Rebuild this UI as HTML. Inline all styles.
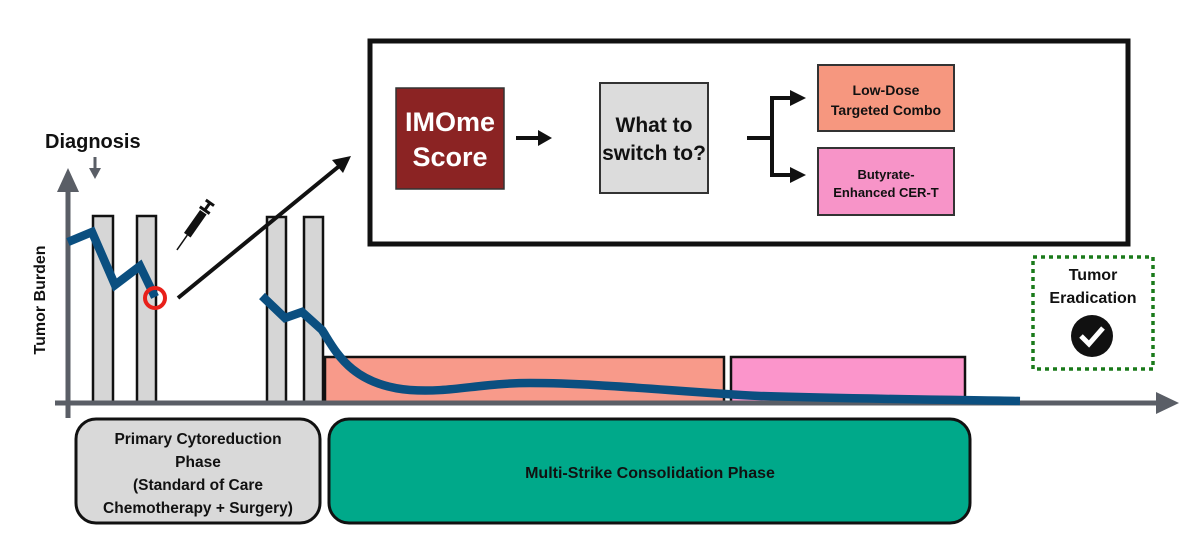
<!DOCTYPE html>
<html><head><meta charset="utf-8"><style>
html,body{margin:0;padding:0;background:#fff;}
svg{display:block;font-family:"Liberation Sans",Arial,sans-serif;font-weight:bold;}
</style></head><body>
<svg width="1200" height="543" viewBox="0 0 1200 543" xmlns="http://www.w3.org/2000/svg">
<rect x="325" y="357" width="399" height="46" fill="#f89a8a" stroke="#111" stroke-width="2.5"/>
<rect x="731" y="357" width="234" height="46" fill="#fb95cb" stroke="#111" stroke-width="2.5"/>
<g fill="#d6d6d6" stroke="#111" stroke-width="2.5">
<rect x="93" y="216" width="20" height="187"/>
<rect x="137" y="216" width="19" height="187"/>
<rect x="267" y="217" width="19" height="186"/>
<rect x="304" y="217" width="19" height="186"/>
</g>
<line x1="68" y1="185" x2="68" y2="418" stroke="#5a5e66" stroke-width="5"/>
<polygon points="57,192 79,192 68,168" fill="#5a5e66"/>
<line x1="55" y1="403" x2="1160" y2="403" stroke="#5a5e66" stroke-width="5"/>
<polygon points="1156,392 1156,414 1179,403" fill="#5a5e66"/>
<line x1="95" y1="157" x2="95" y2="170" stroke="#5a5e66" stroke-width="3"/>
<polygon points="89,168 101,168 95,179" fill="#5a5e66"/>
<text x="45" y="148" font-size="20" fill="#111">Diagnosis</text>
<text transform="translate(45,300) rotate(-90)" text-anchor="middle" font-size="16" fill="#111">Tumor Burden</text>
<polyline points="68,242 92,232 115,285 140,266 155,297" fill="none" stroke="#0b4f80" stroke-width="8.5"/>
<circle cx="155" cy="298" r="10" fill="none" stroke="#e8201a" stroke-width="4"/>
<path d="M262,296 L285,318 L302,312 L322,330 C335,350 350,385 410,390 C450,393 480,383 530,383 C600,383 680,392 760,396 C860,399 960,400 1020,401" fill="none" stroke="#0b4f80" stroke-width="8.5"/>
<g transform="translate(193,227) rotate(35)">
<rect x="-4" y="-18" width="8" height="28" fill="#111"/>
<rect x="-6" y="-22" width="12" height="3" fill="#111"/>
<rect x="-1.5" y="-29" width="3" height="8" fill="#111"/>
<rect x="-5" y="-31" width="10" height="3" fill="#111"/>
<line x1="0" y1="10" x2="0" y2="28" stroke="#111" stroke-width="1.5"/>
</g>
<line x1="178" y1="298" x2="343" y2="163" stroke="#111" stroke-width="4"/>
<polygon points="351,156 332,160 343,173" fill="#111"/>
<rect x="370" y="41" width="758" height="203" fill="#fff" stroke="#111" stroke-width="5"/>
<rect x="396" y="88" width="108" height="101" fill="#8b2323" stroke="#333" stroke-width="1.5"/>
<text x="450" y="131" text-anchor="middle" font-size="27" fill="#fff">IMOme</text>
<text x="450" y="166" text-anchor="middle" font-size="27" fill="#fff">Score</text>
<line x1="516" y1="138" x2="540" y2="138" stroke="#111" stroke-width="4"/>
<polygon points="538,130 538,146 552,138" fill="#111"/>
<rect x="600" y="83" width="108" height="110" fill="#dcdcdc" stroke="#333" stroke-width="2"/>
<text x="654" y="132" text-anchor="middle" font-size="21" fill="#111">What to</text>
<text x="654" y="160" text-anchor="middle" font-size="21" fill="#111">switch to?</text>
<polyline points="747,138 772,138" stroke="#111" stroke-width="4"/>
<polyline points="793,98 772,98 772,175 793,175" fill="none" stroke="#111" stroke-width="4"/>
<polygon points="790,90 790,106 806,98" fill="#111"/>
<polygon points="790,167 790,183 806,175" fill="#111"/>
<rect x="818" y="65" width="136" height="66" fill="#f6977f" stroke="#333" stroke-width="2"/>
<text x="886" y="95" text-anchor="middle" font-size="14" fill="#111">Low-Dose</text>
<text x="886" y="115" text-anchor="middle" font-size="14" fill="#111">Targeted Combo</text>
<rect x="818" y="148" width="136" height="67" fill="#f794c8" stroke="#333" stroke-width="2"/>
<text x="886" y="179" text-anchor="middle" font-size="13" fill="#111">Butyrate-</text>
<text x="886" y="197" text-anchor="middle" font-size="13" fill="#111">Enhanced CER-T</text>
<rect x="1033" y="257" width="120" height="112" fill="#fff" stroke="#1a7a1a" stroke-width="3.5" stroke-dasharray="4,4"/>
<text x="1093" y="280" text-anchor="middle" font-size="16" fill="#111">Tumor</text>
<text x="1093" y="303" text-anchor="middle" font-size="16" fill="#111">Eradication</text>
<circle cx="1092" cy="336" r="21" fill="#111"/>
<polyline points="1081,336 1089,344 1103,328" fill="none" stroke="#fff" stroke-width="5"/>
<rect x="76" y="419" width="244" height="104" rx="20" fill="#d9d9d9" stroke="#111" stroke-width="3"/>
<text x="198" y="444" text-anchor="middle" font-size="15.5" fill="#111">Primary Cytoreduction</text>
<text x="198" y="467" text-anchor="middle" font-size="15.5" fill="#111">Phase</text>
<text x="198" y="490" text-anchor="middle" font-size="15.5" fill="#111">(Standard of Care</text>
<text x="198" y="513" text-anchor="middle" font-size="15.5" fill="#111">Chemotherapy + Surgery)</text>
<rect x="329" y="419" width="641" height="104" rx="20" fill="#00a98a" stroke="#111" stroke-width="3"/>
<text x="650" y="478" text-anchor="middle" font-size="16" fill="#111">Multi-Strike Consolidation Phase</text>
</svg>
</body></html>
